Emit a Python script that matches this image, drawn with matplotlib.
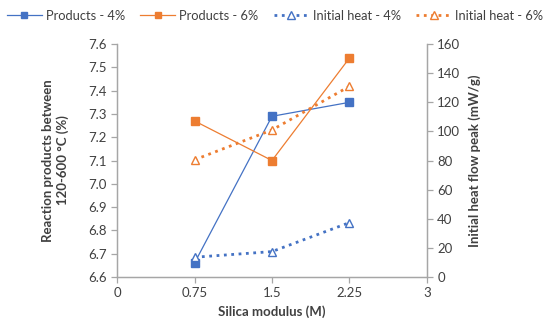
import matplotlib.pyplot as plt

plt.rcParams['font.family'] = ['Lato', 'DejaVu Sans']

modulus = [0.75, 1.5, 2.25]
products_4 = [6.66, 7.29, 7.35]
products_6 = [7.27, 7.10, 7.54]
heat_4 = [13.5, 17.4, 37.3]
heat_6 = [80.5, 101, 131]

x_ticks = [0, 0.75, 1.5, 2.25, 3]
x_tick_labels = ['0', '0.75', '1.5', '2.25', '3']

blue = '#4472C4'
orange = '#ED7D31'
axis_grey = '#A6A6A6'
text_col = '#404040'

fig = plt.figure(figsize=(5.5, 3.32), dpi=100)
ax = fig.add_axes([0.213, 0.166, 0.563, 0.701])
ax2 = ax.twinx()

l1, = ax.plot(modulus, products_4, color=blue, lw=0.9, marker='s', ms=5.5, mec=blue, mfc=blue,
              label='Products - 4%')
l2, = ax.plot(modulus, products_6, color=orange, lw=0.9, marker='s', ms=5.5, mec=orange, mfc=orange,
              label='Products - 6%')
l3, = ax2.plot(modulus, heat_4, color=blue, lw=2, ls=':', marker='^', ms=6, mec=blue, mfc='white',
               label='Initial heat - 4%')
l4, = ax2.plot(modulus, heat_6, color=orange, lw=2, ls=':', marker='^', ms=6, mec=orange, mfc='white',
               label='Initial heat - 6%')

ax.set_xlim(0, 3)
ax.set_ylim(6.6, 7.6)
ax2.set_ylim(0, 160)
ax.set_xticks(x_ticks)
ax.set_xticklabels(x_tick_labels)
ax.set_yticks([6.6 + 0.1 * i for i in range(11)])
ax.set_yticklabels([f'{6.6 + 0.1 * i:.1f}' for i in range(11)])
ax2.set_yticks(range(0, 161, 20))

for a in (ax, ax2):
    a.spines['top'].set_visible(False)
    for s in ('left', 'right', 'bottom'):
        a.spines[s].set_color(axis_grey)
        a.spines[s].set_linewidth(0.9)
    a.tick_params(colors=axis_grey, labelcolor=text_col, labelsize=9.5, length=4, width=0.9)

ax.set_xlabel('Silica modulus (M)', fontsize=9.5, fontweight='bold', color=text_col)
ax.set_ylabel('Reaction products between\n120-600 °C (%)', fontsize=9.5, fontweight='bold',
              color=text_col, labelpad=14)
ax2.set_ylabel('Initial heat flow peak (mW/g)', fontsize=9.5, fontweight='bold', color=text_col,
               labelpad=6)

fig.legend(handles=[l1, l2, l3, l4], loc='upper center', bbox_to_anchor=(0.5, 1.005), ncol=4,
           frameon=False, fontsize=9.3, handlelength=2.7, columnspacing=1.2, handletextpad=0.3,
           labelcolor=text_col, markerscale=0.85)

fig.savefig('out.png', dpi=100)
